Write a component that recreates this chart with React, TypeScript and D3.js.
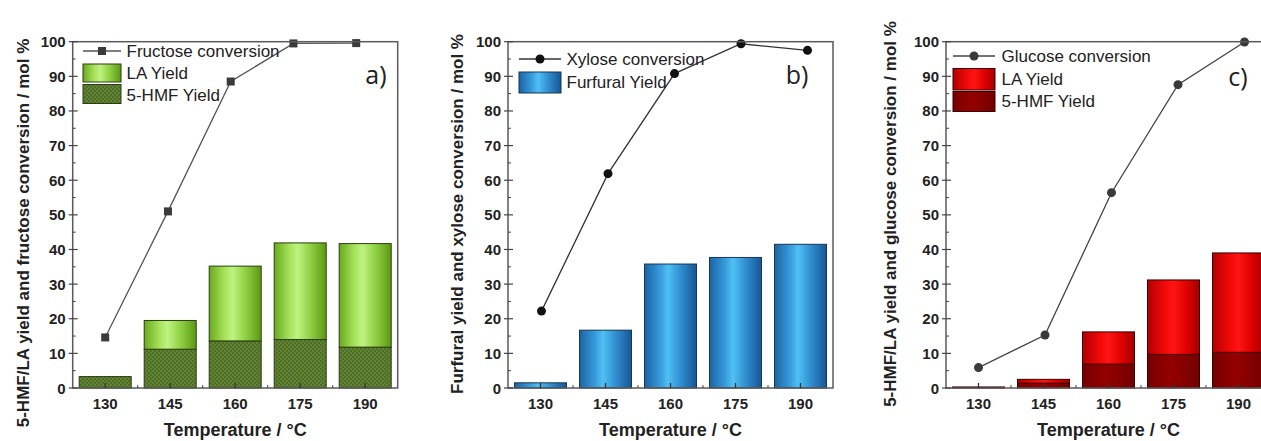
import React from "react";
import * as d3 from "d3";

// ---------- data ----------
const temperatureLabels = ["130", "145", "160", "175", "190"];
const temperatures = [130, 145, 160, 175, 190];
const yTicks = [0, 10, 20, 30, 40, 50, 60, 70, 80, 90, 100];

// panel a) fructose
const fructoseConversion = [14.6, 51.0, 88.5, 99.5, 99.6];
const fructoseHMFYield = [3.3, 11.2, 13.6, 14.0, 11.8];
const fructoseLAYield = [0, 8.3, 21.6, 27.9, 29.9];

// panel b) xylose
const xyloseConversion = [22.2, 61.9, 90.8, 99.4, 97.5];
const furfuralYield = [1.5, 16.7, 35.8, 37.7, 41.5];

// panel c) glucose
const glucoseConversion = [5.9, 15.3, 56.4, 87.6, 99.9];
const glucoseHMFYield = [0.3, 1.4, 6.9, 9.7, 10.3];
const glucoseLAYield = [0, 1.1, 9.3, 21.5, 28.7];

const W = 1261;
const H = 441;
const TOP = 41.7;
const BOTTOM = 388;
const FONT = "'Liberation Sans', Arial, sans-serif";

type Series = { key: string; values: number[]; fill: string; stroke: string };
type LegendItem =
  | { kind: "line"; label: string; marker: "square" | "circle"; y: number }
  | { kind: "box"; label: string; fill: string; stroke: string; y0: number; y1: number; ty: number };

type PanelProps = {
  left: number;
  yTitle: string;
  yTitleX: number;
  yTitleY: number;
  letter: string;
  letterX: number;
  letterY: number;
  series: Series[];
  conversion: number[];
  marker: "square" | "circle";
  lineColor: string;
  markerColor: string;
  lineStartShift: number;
  lineEndShift: number;
  legendX0: number;
  legendX1: number;
  legendTextX: number;
  legend: LegendItem[];
  clipId: string;
};

function Marker({ kind, x, y, color }: { kind: "square" | "circle"; x: number; y: number; color: string }) {
  if (kind === "square") return <rect x={x - 4} y={y - 4} width={8} height={8} fill={color} />;
  return <circle cx={x} cy={y} r={4.5} fill={color} />;
}

function Panel(p: PanelProps) {
  const plotW = 325;
  const x = d3
    .scaleBand<string>()
    .domain(temperatureLabels)
    .range([p.left, p.left + plotW])
    .paddingInner(0.2)
    .paddingOuter(0.1);
  const step = x.step();
  const bw = x.bandwidth();
  const y = d3.scaleLinear().domain([0, 100]).range([BOTTOM, TOP]);
  const cx = (t: string) => (x(t) as number) + bw / 2;
  const lx = d3
    .scaleLinear()
    .domain([130, 190])
    .range([cx("130") + p.lineStartShift, cx("190") + p.lineEndShift]);

  const stack = d3
    .stack<number>()
    .keys(p.series.map((s) => s.key))
    .value((i, key) => p.series.find((ss) => ss.key === key)!.values[i])(temperatures.map((_, i) => i));

  const line = d3
    .line<number>()
    .x((_, i) => lx(temperatures[i]))
    .y((v) => y(v));

  const minorY = d3.range(5, 100, 10);
  const boundaries = d3.range(1, 5).map((i) => p.left + i * step);

  return (
    <g>
      <defs>
        <clipPath id={p.clipId}>
          <rect x={p.left} y={TOP - 6} width={plotW} height={BOTTOM - TOP + 6} />
        </clipPath>
      </defs>
      {stack.map((layer, li) => {
        const s = p.series[li];
        return (
          <g key={s.key}>
            {layer.map((d, i) =>
              d[1] - d[0] > 0 ? (
                <rect
                  key={i}
                  x={x(temperatureLabels[i])}
                  y={y(d[1])}
                  width={bw}
                  height={y(d[0]) - y(d[1])}
                  fill={s.fill}
                  stroke={s.stroke}
                  strokeWidth={1}
                />
              ) : null
            )}
          </g>
        );
      })}
      <g clipPath={`url(#${p.clipId})`}>
        <path d={line(p.conversion) || ""} fill="none" stroke={p.lineColor} strokeWidth={1.3} />
        {p.conversion.map((v, i) => (
          <Marker key={i} kind={p.marker} x={lx(temperatures[i])} y={y(v)} color={p.markerColor} />
        ))}
      </g>
      <rect x={p.left} y={TOP} width={plotW} height={BOTTOM - TOP} fill="none" stroke="#5a5a5a" strokeWidth={1.5} />
      {yTicks.map((t) => (
        <g key={t}>
          <line x1={p.left - 4} x2={p.left + 5} y1={y(t)} y2={y(t)} stroke="#444" strokeWidth={1.2} />
          <text
            x={p.left - 7}
            y={y(t)}
            textAnchor="end"
            dominantBaseline="central"
            fontFamily={FONT}
            fontWeight="bold"
            fontSize={15}
            fill="#222"
          >
            {t}
          </text>
        </g>
      ))}
      {minorY.map((t) => (
        <line key={t} x1={p.left} x2={p.left + 3} y1={y(t)} y2={y(t)} stroke="#444" strokeWidth={1} />
      ))}
      {temperatureLabels.map((t) => (
        <g key={t}>
          <line x1={cx(t)} x2={cx(t)} y1={BOTTOM} y2={BOTTOM - 5} stroke="#333" strokeWidth={1.3} />
          <text x={cx(t)} y={408.5} textAnchor="middle" fontFamily={FONT} fontWeight="bold" fontSize={15} fill="#222">
            {t}
          </text>
        </g>
      ))}
      {boundaries.map((b, i) => (
        <line key={i} x1={b} x2={b} y1={BOTTOM} y2={BOTTOM - 3} stroke="#444" strokeWidth={1} />
      ))}
      <text x={cx("160")} y={436} textAnchor="middle" fontFamily={FONT} fontWeight="bold" fontSize={18} fill="#222">
        Temperature / °C
      </text>
      <text
        transform={`translate(${p.yTitleX},${p.yTitleY}) rotate(-90)`}
        textAnchor="middle"
        dominantBaseline="central"
        fontFamily={FONT}
        fontWeight="bold"
        fontSize={17}
        fill="#222"
      >
        {p.yTitle}
      </text>
      {p.legend.map((it, i) =>
        it.kind === "line" ? (
          <g key={i}>
            <line x1={p.legendX0} x2={p.legendX1} y1={it.y} y2={it.y} stroke={p.lineColor} strokeWidth={1.3} />
            <Marker kind={it.marker} x={(p.legendX0 + p.legendX1) / 2} y={it.y} color={p.markerColor} />
            <text x={p.legendTextX} y={it.y} dominantBaseline="central" fontFamily={FONT} fontSize={17} fill="#222">
              {it.label}
            </text>
          </g>
        ) : (
          <g key={i}>
            <rect
              x={p.legendX0}
              y={it.y0}
              width={p.legendX1 - p.legendX0}
              height={it.y1 - it.y0}
              fill={it.fill}
              stroke={it.stroke}
              strokeWidth={1}
            />
            <text x={p.legendTextX} y={it.ty} dominantBaseline="central" fontFamily={FONT} fontSize={17} fill="#222">
              {it.label}
            </text>
          </g>
        )
      )}
      <text
        x={p.letterX}
        y={p.letterY}
        textAnchor="middle"
        dominantBaseline="central"
        fontFamily="'Open Sans', 'Noto Sans', sans-serif"
        fontSize={25}
        fill="#222"
      >
        {p.letter}
      </text>
    </g>
  );
}

export default function App() {
  return (
    <svg
      width={W}
      height={H}
      viewBox={`0 0 ${W} ${H}`}
      style={{ position: "absolute", left: 0, top: 0, background: "#fff" }}
    >
      <defs>
        <linearGradient id="gGreen" x1="0" x2="1" y1="0" y2="0">
          <stop offset="0" stopColor="#6aaa1e" />
          <stop offset="0.3" stopColor="#a6e45c" />
          <stop offset="0.45" stopColor="#bff282" />
          <stop offset="0.7" stopColor="#8fd043" />
          <stop offset="1" stopColor="#5c9812" />
        </linearGradient>
        <pattern id="pHMF" width="4" height="4" patternUnits="userSpaceOnUse">
          <rect width="4" height="4" fill="#618434" />
          <rect width="2" height="2" fill="#4e6e27" />
          <rect x="2" y="2" width="2" height="2" fill="#4e6e27" />
        </pattern>
        <linearGradient id="gBlue" x1="0" x2="1" y1="0" y2="0">
          <stop offset="0" stopColor="#1b64a3" />
          <stop offset="0.3" stopColor="#369bdc" />
          <stop offset="0.45" stopColor="#4fc0f4" />
          <stop offset="0.7" stopColor="#2f8ed0" />
          <stop offset="1" stopColor="#175594" />
        </linearGradient>
        <linearGradient id="gRed" x1="0" x2="1" y1="0" y2="0">
          <stop offset="0" stopColor="#b20000" />
          <stop offset="0.35" stopColor="#f50a0a" />
          <stop offset="0.5" stopColor="#ff1414" />
          <stop offset="0.75" stopColor="#e00000" />
          <stop offset="1" stopColor="#a00000" />
        </linearGradient>
        <linearGradient id="gDarkRed" x1="0" x2="1" y1="0" y2="0">
          <stop offset="0" stopColor="#760000" />
          <stop offset="0.45" stopColor="#950000" />
          <stop offset="1" stopColor="#720000" />
        </linearGradient>
      </defs>
      <rect width={W} height={H} fill="#fff" />

      <Panel
        left={72.7}
        yTitle="5-HMF/LA yield and fructose conversion / mol %"
        yTitleX={23}
        yTitleY={233}
        letter="a)"
        letterX={376}
        letterY={74}
        series={[
          { key: "hmf", values: fructoseHMFYield, fill: "url(#pHMF)", stroke: "#2c3c12" },
          { key: "la", values: fructoseLAYield, fill: "url(#gGreen)", stroke: "#2c3c12" },
        ]}
        conversion={fructoseConversion}
        marker="square"
        lineColor="#555"
        markerColor="#3a3a3a"
        lineStartShift={0}
        lineEndShift={-9}
        legendX0={83}
        legendX1={121}
        legendTextX={126.5}
        legend={[
          { kind: "line", label: "Fructose conversion", marker: "square", y: 51 },
          { kind: "box", label: "LA Yield", fill: "url(#gGreen)", stroke: "#2c3c12", y0: 64, y1: 82, ty: 73 },
          { kind: "box", label: "5-HMF Yield", fill: "url(#pHMF)", stroke: "#2c3c12", y0: 84.5, y1: 103.5, ty: 95 },
        ]}
        clipId="clipA"
      />

      <Panel
        left={508}
        yTitle="Furfural yield and xylose conversion / mol %"
        yTitleX={457}
        yTitleY={214}
        letter="b)"
        letterX={797}
        letterY={74}
        series={[{ key: "furfural", values: furfuralYield, fill: "url(#gBlue)", stroke: "#1a3550" }]}
        conversion={xyloseConversion}
        marker="circle"
        lineColor="#333"
        markerColor="#111"
        lineStartShift={1}
        lineEndShift={7}
        legendX0={519}
        legendX1={561}
        legendTextX={566.5}
        legend={[
          { kind: "line", label: "Xylose conversion", marker: "circle", y: 59 },
          { kind: "box", label: "Furfural Yield", fill: "url(#gBlue)", stroke: "#1a3550", y0: 72, y1: 93, ty: 82 },
        ]}
        clipId="clipB"
      />

      <Panel
        left={946}
        yTitle="5-HMF/LA yield and glucose conversion / mol %"
        yTitleX={890}
        yTitleY={214}
        letter="c)"
        letterX={1238}
        letterY={76}
        series={[
          { key: "hmf", values: glucoseHMFYield, fill: "url(#gDarkRed)", stroke: "#3a0000" },
          { key: "la", values: glucoseLAYield, fill: "url(#gRed)", stroke: "#3a0000" },
        ]}
        conversion={glucoseConversion}
        marker="circle"
        lineColor="#444"
        markerColor="#3a3a3a"
        lineStartShift={0}
        lineEndShift={6}
        legendX0={953}
        legendX1={995}
        legendTextX={1001.5}
        legend={[
          { kind: "line", label: "Glucose conversion", marker: "circle", y: 56 },
          { kind: "box", label: "LA Yield", fill: "url(#gRed)", stroke: "#3a0000", y0: 68.5, y1: 90, ty: 79 },
          { kind: "box", label: "5-HMF Yield", fill: "url(#gDarkRed)", stroke: "#3a0000", y0: 91.5, y1: 111.5, ty: 101 },
        ]}
        clipId="clipC"
      />
    </svg>
  );
}
